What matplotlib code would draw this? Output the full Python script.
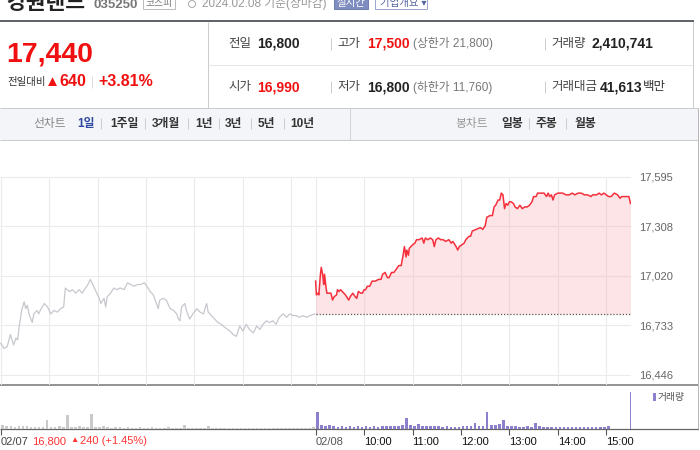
import numpy as np
import matplotlib.pyplot as plt
from matplotlib.patches import Rectangle, Circle

plt.rcParams['font.family'] = ['Liberation Sans', 'Noto Sans CJK KR', 'DejaVu Sans']

# time axis: minutes from 02/07 09:00, 02/08 09:00 = 390
prev_min = [0, 4, 8, 12, 16, 19, 21, 23, 26, 29,
            31, 33, 35, 39, 41, 45, 47, 50, 54, 58,
            62, 66, 70, 74, 78, 80, 85, 89, 93, 97,
            101, 105, 108, 111, 113, 118, 122, 124, 128, 130,
            132, 136, 140, 144, 148, 153, 157, 161, 165, 169,
            173, 178, 181, 185, 189, 193, 195, 197, 201, 205,
            210, 214, 218, 220, 222, 224, 228, 230, 234, 238,
            243, 247, 251, 255, 257, 261, 265, 269, 273, 278,
            284, 288, 292, 296, 300, 304, 308, 313, 317, 321,
            325, 329, 333, 337, 341, 345, 350, 354, 358, 362,
            366, 370, 374, 379, 383, 389]
prev_price = [16630, 16600, 16610, 16680, 16620, 16660, 16650, 16730, 16820, 16870,
              16830, 16850, 16800, 16750, 16800, 16820, 16800, 16830, 16860, 16840,
              16800, 16820, 16810, 16830, 16840, 16950, 16930, 16940, 16920, 16940,
              16920, 16950, 16970, 17000, 16980, 16930, 16890, 16860, 16890, 16840,
              16900, 16920, 16950, 16940, 16950, 16940, 16980, 16970, 16960, 16970,
              16970, 16980, 16960, 16930, 16910, 16860, 16830, 16880, 16890, 16880,
              16830, 16820, 16800, 16770, 16760, 16840, 16860, 16820, 16770, 16800,
              16830, 16810, 16800, 16860, 16810, 16790, 16770, 16750, 16740, 16720,
              16700, 16680, 16670, 16730, 16700, 16740, 16710, 16690, 16730, 16710,
              16740, 16760, 16750, 16760, 16740, 16780, 16800, 16780, 16800, 16790,
              16790, 16780, 16790, 16780, 16790, 16800]

today_min = [390, 391, 393, 394, 396, 397, 399, 400, 401, 403,
             404, 409, 411, 413, 416, 417, 419, 421, 423, 427,
             431, 433, 436, 439, 441, 443, 446, 448, 450, 452,
             454, 457, 460, 464, 468, 471, 473, 476, 479, 481,
             484, 487, 490, 493, 496, 498, 500, 502, 503, 505,
             506, 508, 510, 513, 515, 518, 522, 524, 526, 529,
             532, 535, 537, 539, 542, 545, 548, 551, 555, 558,
             560, 564, 566, 568, 571, 574, 576, 580, 582, 584,
             589, 594, 597, 600, 602, 606, 609, 611, 613, 616,
             618, 620, 622, 624, 626, 628, 630, 632, 635, 637,
             640, 643, 646, 649, 652, 655, 658, 660, 663, 665,
             669, 673, 676, 678, 680, 682, 684, 686, 690, 693,
             696, 700, 704, 708, 711, 715, 719, 723, 727, 731,
             733, 738, 741, 744, 747, 750, 753, 756, 760, 764,
             767, 769, 773, 778, 780]
today_price = [16990, 16910, 16920, 16910, 17030, 17070, 17020, 16970, 17030, 16950,
               16920, 16920, 16880, 16900, 16910, 16940, 16930, 16940, 16930, 16910,
               16880, 16900, 16920, 16900, 16890, 16930, 16920, 16920, 16940, 16940,
               16960, 16960, 16990, 16990, 17000, 17000, 17030, 17040, 17010, 17010,
               17040, 17040, 17060, 17080, 17080, 17130, 17190, 17130, 17170, 17140,
               17180, 17190, 17200, 17210, 17230, 17230, 17240, 17210, 17240, 17230,
               17240, 17230, 17190, 17230, 17240, 17230, 17230, 17220, 17230, 17210,
               17220, 17190, 17170, 17190, 17200, 17210, 17230, 17250, 17250, 17280,
               17290, 17300, 17290, 17310, 17360, 17370, 17370, 17420, 17430, 17460,
               17460, 17500, 17490, 17410, 17440, 17430, 17450, 17450, 17440, 17420,
               17410, 17430, 17410, 17420, 17420, 17430, 17450, 17480, 17480, 17500,
               17500, 17500, 17480, 17500, 17480, 17490, 17460, 17490, 17500, 17500,
               17500, 17490, 17490, 17500, 17490, 17500, 17500, 17490, 17490, 17480,
               17490, 17490, 17500, 17490, 17500, 17490, 17480, 17480, 17500, 17490,
               17470, 17480, 17480, 17480, 17440]
prev_close = 16800

# volume in thousand shares, 5-minute buckets
vol_prev_min = np.arange(0, 390, 5)
vol_prev = [8, 5, 6, 4, 5, 6,
            5, 4, 3, 4, 3, 18,
            4, 3, 5, 3, 28, 4,
            3, 5, 4, 3, 30, 4,
            3, 5, 3, 2, 3, 4,
            2, 3, 2, 2, 3, 2,
            2, 3, 2, 2, 2, 3,
            2, 2, 2, 7, 2, 1,
            2, 1, 2, 6, 1, 2,
            1, 1, 2, 1, 1, 2,
            1, 1, 2, 1, 1, 2,
            1, 2, 1, 2, 1, 2,
            1, 2, 1, 2, 2, 3]
vol_today_min = np.arange(390, 755, 5)
vol_today = [34, 8, 6, 7, 5, 4,
             5, 4, 5, 4, 5, 4,
             5, 4, 5, 4, 5, 5,
             6, 5, 6, 8, 22, 7,
             6, 10, 6, 5, 6, 5,
             5, 4, 5, 4, 4, 4,
             5, 6, 5, 12, 6, 5,
             34, 8, 7, 9, 18, 6,
             5, 5, 4, 4, 5, 4,
             12, 5, 4, 4, 4, 3,
             4, 3, 4, 3, 4, 3,
             4, 3, 3, 4, 3, 4,
             5]
close_min = 780
close_vol = 73

y_ticks = [16446, 16733, 17020, 17308, 17595]
y_labels = ['16,446', '16,733', '17,020', '17,308', '17,595']
grid_min = [0, 60, 120, 180, 240, 300, 360, 390, 450, 510, 570, 630, 690, 750]
x_ticks = [0, 390, 450, 510, 570, 630, 690, 750]
x_labels = ['02/07', '02/08', '10:00', '11:00', '12:00', '13:00', '14:00', '15:00']

RED = '#f01010'
W, H = 700, 450
fig = plt.figure(figsize=(W / 100, H / 100), dpi=100)

bg = fig.add_axes([0, 0, 1, 1])
bg.set_xlim(0, W)
bg.set_ylim(H, 0)
bg.axis('off')


def px_axes(x0, y0, x1, y1):
    a = fig.add_axes([x0 / W, 1 - y1 / H, (x1 - x0) / W, (y1 - y0) / H])
    a.patch.set_visible(False)
    for s in a.spines.values():
        s.set_visible(False)
    return a


def txt(x, y, s, size=9, color='#333', weight='normal', ha='left', va='center'):
    bg.text(x, y, s, fontsize=size, color=color, fontweight=weight, ha=ha, va=va)


def hl(y, x0, x1, color, lw=0.72):
    bg.plot([x0, x1], [y, y], color=color, lw=lw, solid_capstyle='butt')


def vl(x, y0, y1, color, lw=0.72):
    bg.plot([x, x], [y0, y1], color=color, lw=lw, solid_capstyle='butt')


# ---- header line (cut off at top, as in the page)
txt(6, 9, '강원랜드', 15.5, '#222', 'bold', va='baseline')
txt(93, 8, '035250', 9.5, '#777', 'bold', va='baseline')
bg.add_patch(Rectangle((143, -5), 32, 14, fc='white', ec='#bbb', lw=0.7))
txt(159, 3, '코스피', 7, '#777', ha='center')
bg.add_patch(Circle((192, 4), 3.5, fc='white', ec='#aaa', lw=0.7))
txt(202, 3, '2024.02.08 기준(장마감)', 8.5, '#999')
bg.add_patch(Rectangle((334, -5), 34, 14, fc='#7f8dc0', ec='#6f7db0', lw=0.7))
txt(351, 3, '실시간', 7.5, 'white', ha='center')
bg.add_patch(Rectangle((375, -5), 52, 14, fc='white', ec='#9aa5cf', lw=0.7))
txt(380, 3, '기업개요 ▾', 7.5, '#5565a0')

bg.add_patch(Rectangle((0, 20), 694, 2.2, fc='#5f646b', ec='none'))

# ---- price summary
vl(208, 22, 108, '#cccccc')
vl(693, 22, 108, '#cccccc')
hl(65, 208, 693, '#e6e6e6')
txt(6, 54, '17,440', 20.5, RED, 'bold')
txt(7, 82, '전일대비', 7.5, '#333')
txt(45, 81.5, '▲', 11, RED)
txt(59, 82, '640', 11.5, RED, 'bold')
vl(92, 76, 88, '#dddddd')
txt(98, 82, '+3.81%', 11.5, RED, 'bold')

for y, lab1, v1, c1, lab2, v2, c2, lim, lab3, v3, x3 in [
        (44, '전일', '16,800', '#222', '고가', '17,500', RED, '(상한가 21,800)', '거래량', '2,410,741', 591),
        (87, '시가', '16,990', RED, '저가', '16,800', '#222', '(하한가 11,760)', '거래대금', '41,613', 600)]:
    txt(228, y, lab1, 9, '#444')
    txt(257, y, v1, 10, c1, 'bold')
    vl(331, y - 6, y + 6, '#cccccc')
    txt(337, y, lab2, 9, '#444')
    txt(367, y, v2, 10, c2, 'bold')
    txt(413, y, lim, 8.5, '#777')
    vl(545, y - 6, y + 6, '#cccccc')
    txt(551, y, lab3, 9, '#444')
    txt(x3, y, v3, 10, '#222', 'bold')
txt(643, 87, '백만', 9, '#333')

# ---- tab bar
bg.add_patch(Rectangle((0, 108), 698, 32, fc='#f4f5f8', ec='none'))
hl(108, 0, 698, '#c8cbd0')
hl(140, 0, 698, '#c8cbd0')
vl(350, 108, 140, '#d0d3d8')
vl(698, 108, 430, '#b8b8b8')
txt(33, 124, '선차트', 8.5, '#888')
txt(77, 124, '1일', 8.5, '#2f4aa0', 'bold')
for x, s in [(110, '1주일'), (152, '3개월'), (195, '1년'), (225, '3년'), (258, '5년'), (290, '10년'),
             (501, '일봉'), (536, '주봉'), (574, '월봉')]:
    txt(x, 124, s, 8.5, '#333', 'bold')
for x in [101, 145, 188, 219, 251, 284, 529, 566]:
    vl(x, 118, 129, '#cccccc')
txt(455, 124, '봉차트', 8.5, '#999')

# ---- price chart
ax = px_axes(0, 150, 631, 385.3)
ax.set_xlim(-0.87, 780.6)
ax.set_ylim(16386, 17750)
ax.vlines(grid_min, 16386, 17595, colors='#ebebeb', lw=0.8, zorder=0)
ax.hlines(y_ticks, -0.87, 780.6, colors='#ebebeb', lw=0.8, zorder=0)
ax.plot(prev_min, prev_price, color='#c6c8ce', lw=0.9, zorder=2)
ax.fill_between(today_min, today_price, prev_close, color='#f7a8b0', alpha=0.3, lw=0, zorder=1)
ax.hlines(prev_close, 390, 780, colors='#555555', linestyles=(0, (1, 1.5)), lw=0.9, zorder=3)
ax.plot(today_min, today_price, color='#f5303c', lw=1.1, zorder=4)
ax.set_xticks([])
ax.yaxis.tick_right()
ax.set_yticks(y_ticks)
ax.set_yticklabels(y_labels)
ax.tick_params(axis='y', length=0, pad=6, labelsize=8, labelcolor='#666')

hl(385.3, 0, 698, '#8a8a8a', 1.3)

# ---- volume
axv = px_axes(0, 386, 631, 428.7)
axv.set_xlim(-0.87, 780.6)
axv.set_ylim(0, close_vol * 42.7 / 36.7)
axv.bar(vol_prev_min + 2.5, vol_prev, width=3.2, color='#c9c9c9', lw=0)
axv.bar(vol_today_min + 2.5, vol_today, width=3.2, color='#8d7fcb', lw=0)
axv.bar(close_min - 0.5, close_vol, width=1.4, color='#8d7fcb', lw=0)
axv.set_yticks([])
axv.set_xticks(x_ticks)
axv.set_xticklabels(x_labels)
axv.tick_params(axis='x', length=4, width=0.8, color='#555', pad=2, labelsize=8)
for lab, c in zip(axv.get_xticklabels(), ['#444', '#555'] + ['#111'] * 6):
    lab.set_ha('left')
    lab.set_color(c)
hl(428.7, 0, 698, '#666666', 0.9)

bg.add_patch(Rectangle((653, 393), 2.5, 8, fc='#8d7fcb', ec='none'))
txt(658, 397, '거래량', 7, '#555')

txt(32, 441, '16,800', 8, '#f33')
txt(70, 441, '▲', 6, '#f33')
txt(79.5, 441, '240 (+1.45%)', 8, '#f33')

fig.savefig('out.png', dpi=100)
